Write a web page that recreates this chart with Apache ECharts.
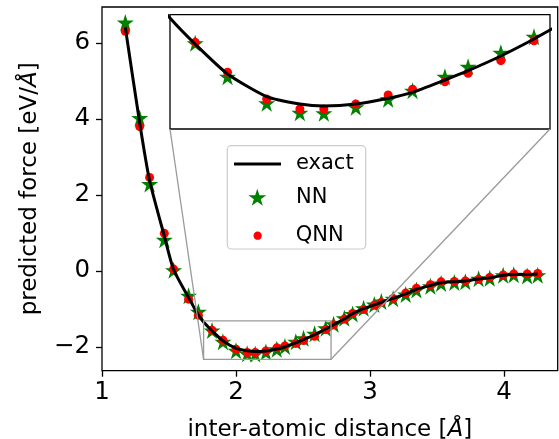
<!DOCTYPE html>
<html><head><meta charset="utf-8">
<script src="https://cdn.jsdelivr.net/npm/echarts@6/dist/echarts.min.js"></script>
<style>html,body{margin:0;padding:0;background:#fff}#c{width:559px;height:439px}</style>
</head><body><div id="c"></div>
<script>
// ---- data ----
const pointX = [1.174, 1.281, 1.355, 1.465, 1.534, 1.646, 1.719, 1.821, 1.902, 2.000, 2.083, 2.143, 2.223, 2.304, 2.365, 2.446, 2.504, 2.586, 2.669, 2.728, 2.808, 2.870, 2.952, 3.032, 3.084, 3.172, 3.266, 3.346, 3.450, 3.530, 3.629, 3.711, 3.810, 3.893, 3.993, 4.072, 4.172, 4.251];
const nnY = [6.53, 4.02, 2.29, 0.82, 0.02, -0.65, -1.07, -1.563, -1.858, -2.093, -2.176, -2.181, -2.128, -2.057, -1.981, -1.858, -1.769, -1.646, -1.504, -1.40, -1.24, -1.13, -0.98, -0.88, -0.80, -0.73, -0.62, -0.50, -0.40, -0.33, -0.30, -0.28, -0.20, -0.19, -0.11, -0.10, -0.13, -0.11];
const qnnY = [6.30, 3.80, 2.46, 0.99, 0.05, -0.74, -1.16, -1.554, -1.819, -2.055, -2.143, -2.143, -2.099, -2.019, -1.969, -1.902, -1.828, -1.716, -1.540, -1.413, -1.263, -1.114, -1.009, -0.895, -0.825, -0.719, -0.58, -0.456, -0.36, -0.285, -0.275, -0.26, -0.219, -0.167, -0.105, -0.075, -0.075, -0.065];
const exactX = [1.174, 1.281, 1.355, 1.465, 1.534, 1.646, 1.719, 1.758, 1.821, 1.902, 2.000, 2.083, 2.143, 2.223, 2.304, 2.365, 2.446, 2.504, 2.586, 2.669, 2.709, 2.728, 2.808, 2.870, 2.952, 3.032, 3.084, 3.172, 3.266, 3.346, 3.450, 3.530, 3.629, 3.711, 3.810, 3.893, 3.993, 4.072, 4.172, 4.251];
const exactY = [6.40, 3.90, 2.38, 0.92, 0.04, -0.70, -1.16, -1.34, -1.57, -1.834, -2.034, -2.099, -2.117, -2.100, -2.049, -1.996, -1.887, -1.805, -1.675, -1.525, -1.445, -1.41, -1.26, -1.12, -0.99, -0.89, -0.82, -0.72, -0.60, -0.48, -0.38, -0.31, -0.28, -0.26, -0.21, -0.18, -0.11, -0.09, -0.09, -0.08];
const xTicks = [1, 2, 3, 4];
const yTicks = [-2, 0, 2, 4, 6];
const xRange = [1.0, 4.40];
const yRange = [-2.62, 6.94];
const insetX = [1.758, 2.709];
const insetY = [-2.32, -1.31];
const labels = { x: 'inter-atomic distance [{i|Å}]', y: 'predicted force [eV/{i|Å}]', s: ['exact', 'NN', 'QNN'] };

// ---- styling ----
const FONT = 'DejaVu Sans';
function starPath() {
  let s = 'path://';
  for (let k = 0; k < 10; k++) {
    const a = -Math.PI / 2 + k * Math.PI / 5;
    const r = k % 2 ? 0.382 : 1;
    s += (k ? 'L' : 'M') + ((1 + r * Math.cos(a)) * 50).toFixed(2) + ',' + ((1 + r * Math.sin(a)) * 50).toFixed(2) + ' ';
  }
  return s + 'Z';
}
const STAR = starPath();
const pairs = (xs, ys) => xs.map((x, i) => [x, ys[i]]);
const minus = v => String(v).replace('-', '\u2212');
const GREEN = '#008000', RED = '#ff0000';

function seriesFor(idx) {
  return [
    { type: 'line', name: labels.s[0], xAxisIndex: idx, yAxisIndex: idx, data: pairs(exactX, exactY), symbol: 'none', smooth: 0.2, clip: true,
      lineStyle: { color: '#000', width: 3 }, itemStyle: { color: '#000' }, silent: true },
    { type: 'scatter', name: labels.s[1], xAxisIndex: idx, yAxisIndex: idx, data: pairs(pointX, nnY), symbol: STAR, symbolSize: 17, clip: true,
      itemStyle: { color: GREEN, opacity: 1 }, silent: true },
    { type: 'scatter', name: labels.s[2], xAxisIndex: idx, yAxisIndex: idx, data: pairs(pointX, qnnY), symbol: 'circle', symbolSize: 9, clip: true,
      itemStyle: { color: RED, opacity: 1 }, silent: true }
  ];
}

const axisText = { fontFamily: FONT, color: '#000' };
const option = {
  animation: false,
  backgroundColor: '#fff',
  grid: [
    { left: 102, top: 7, right: 1.3, bottom: 68.3, show: true, borderColor: '#000', borderWidth: 1.3, backgroundColor: 'transparent', containLabel: false, outerBoundsMode: 'none' },
    { left: 170, top: 14.7, width: 380, height: 114.3, show: true, borderColor: '#000', borderWidth: 1.3, backgroundColor: '#fff', containLabel: false, outerBoundsMode: 'none' }
  ],
  xAxis: [
    { type: 'value', gridIndex: 0, min: xRange[0], max: xRange[1],
      axisLine: { show: false, onZero: false },
      axisTick: { show: true, length: 6, lineStyle: { color: '#000', width: 1.3 }, customValues: xTicks },
      axisLabel: { customValues: xTicks, showMinLabel: true, showMaxLabel: true, fontSize: 24.5, margin: 9.5, formatter: minus, ...axisText },
      splitLine: { show: false },
      name: labels.x, nameLocation: 'middle', nameGap: 48,
      nameTextStyle: { fontSize: 23, ...axisText, rich: { i: { fontStyle: 'italic', fontSize: 23, ...axisText } } } },
    { type: 'value', gridIndex: 1, min: insetX[0], max: insetX[1], show: false, splitLine: { show: false } }
  ],
  yAxis: [
    { type: 'value', gridIndex: 0, min: yRange[0], max: yRange[1],
      axisLine: { show: false, onZero: false },
      axisTick: { show: true, length: 6, lineStyle: { color: '#000', width: 1.3 }, customValues: yTicks },
      axisLabel: { customValues: yTicks, showMinLabel: true, showMaxLabel: true, fontSize: 24.5, margin: 12, formatter: minus, ...axisText },
      splitLine: { show: false },
      name: labels.y, nameLocation: 'middle', nameGap: 60, nameRotate: 90,
      nameTextStyle: { fontSize: 23, ...axisText, rich: { i: { fontStyle: 'italic', fontSize: 23, ...axisText } } } },
    { type: 'value', gridIndex: 1, min: insetY[0], max: insetY[1], show: false, splitLine: { show: false } }
  ],
  legend: [
    { data: [{ name: labels.s[0], icon: 'rect' }], left: 234, top: 153.5, itemWidth: 47, itemHeight: 3, padding: 0, selectedMode: false,
      itemStyle: { color: '#000', opacity: 1 },
      textStyle: { fontSize: 21, ...axisText, padding: [0, 0, 0, 10] } },
    { data: [{ name: labels.s[1], icon: STAR }], left: 248.3, top: 186.7, itemWidth: 18, itemHeight: 18, padding: 0, selectedMode: false,
      itemStyle: { color: GREEN, opacity: 1 },
      textStyle: { fontSize: 21, ...axisText, padding: [0, 0, 0, 24.7] } },
    { data: [{ name: labels.s[2], icon: 'circle' }], left: 253.5, top: 225.2, itemWidth: 8.3, itemHeight: 8.3, padding: 0, selectedMode: false,
      itemStyle: { color: RED, opacity: 1 },
      textStyle: { fontSize: 21, ...axisText, padding: [0, 0, 0, 29] } }
  ],
  series: [...seriesFor(0), ...seriesFor(1)]
};

const chart = echarts.init(document.getElementById('c'), null, { renderer: 'canvas' });
chart.setOption(option);

// inset indicator rectangle and connector lines, positioned via the axes
const mainPx = v => chart.convertToPixel({ xAxisIndex: 0, yAxisIndex: 0 }, v);
const insPx = v => chart.convertToPixel({ xAxisIndex: 1, yAxisIndex: 1 }, v);
const rTL = mainPx([insetX[0], insetY[1]]), rBR = mainPx([insetX[1], insetY[0]]);
const rBL = mainPx([insetX[0], insetY[0]]);
const iBL = insPx([insetX[0], insetY[0]]), iBR = insPx([insetX[1], insetY[0]]);
const GREY = '#9a9a9a';
chart.setOption({
  graphic: [
    { type: 'rect', z: 3, shape: { x: 227.3, y: 145.7, width: 138.4, height: 103.3, r: 4 },
      style: { fill: 'rgba(255,255,255,0.8)', stroke: '#cccccc', lineWidth: 1.2 } },
    { type: 'rect', z: 10, shape: { x: rTL[0], y: rTL[1], width: rBR[0] - rTL[0], height: rBR[1] - rTL[1] },
      style: { fill: 'none', stroke: GREY, lineWidth: 1.3 } },
    { type: 'line', z: 10, shape: { x1: rBL[0], y1: rBL[1], x2: iBL[0], y2: iBL[1] }, style: { stroke: GREY, lineWidth: 1.3 } },
    { type: 'line', z: 10, shape: { x1: rBR[0], y1: rBR[1], x2: iBR[0], y2: iBR[1] }, style: { stroke: GREY, lineWidth: 1.3 } }
  ]
});
</script>
</body></html>
